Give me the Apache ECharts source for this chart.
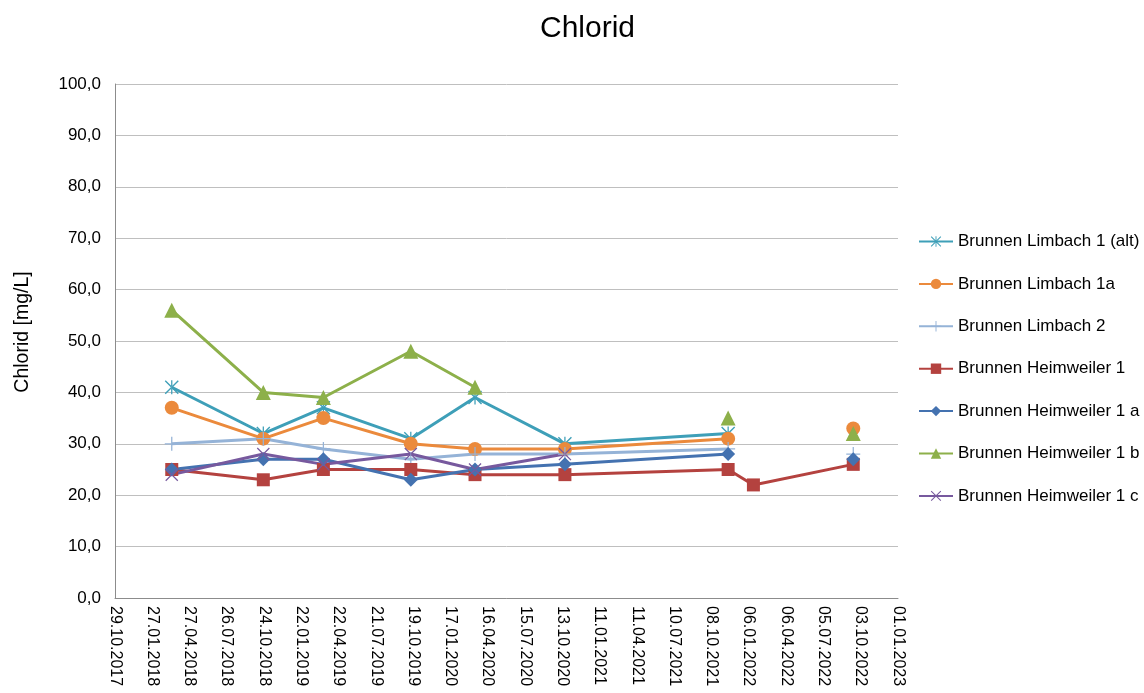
<!DOCTYPE html>
<html>
<head>
<meta charset="utf-8">
<script src="https://cdn.jsdelivr.net/npm/echarts@6/dist/echarts.min.js"></script>
<style>
  html, body { margin: 0; padding: 0; background: #fff; }
  #chart { width: 1144px; height: 693px; }
</style>
</head>
<body>
<div id="chart"></div>
<script>
// Sampling dates (one row per measurement campaign)
const sampleDates = ['2018-03-15', '2018-10-22', '2019-03-16', '2019-10-13', '2020-03-16',
                     '2020-10-19', '2021-11-17', '2022-01-17', '2022-09-15'];

// Chloride in mg/L; null = not sampled on that date
const limbach1alt   = [41, 32, 37, 31, 39, 30, 32, null, null];
const limbach1a     = [37, 31, 35, 30, 29, 29, 31, null, 33];
const limbach2      = [30, 31, 29, 27, 28, 28, 29, null, 28];
const heimweiler1   = [25, 23, 25, 25, 24, 24, 25, 22, 26];
const heimweiler1a  = [25, 27, 27, 23, 25, 26, 28, null, 27];
const heimweiler1b  = [56, 40, 39, 48, 41, null, 35, null, 32];
const heimweiler1c  = [24, 28, 26, 28, 25, 28, null, null, null];

// Date axis tick labels, every 90 days from 29.10.2017
const xTickLabels = ['29.10.2017', '27.01.2018', '27.04.2018', '26.07.2018', '24.10.2018',
  '22.01.2019', '22.04.2019', '21.07.2019', '19.10.2019', '17.01.2020', '16.04.2020',
  '15.07.2020', '13.10.2020', '11.01.2021', '11.04.2021', '10.07.2021', '08.10.2021',
  '06.01.2022', '06.04.2022', '05.07.2022', '03.10.2022', '01.01.2023'];
const axisStart = '2017-10-29';
const tickStepDays = 90;

const DAY = 86400000;
function dayOffset(s) {
  const [y, m, d] = s.split('-').map(Number);
  const [y0, m0, d0] = axisStart.split('-').map(Number);
  return Math.round((Date.UTC(y, m - 1, d) - Date.UTC(y0, m0 - 1, d0)) / DAY);
}
const xDays = sampleDates.map(dayOffset);

function pairs(values) {
  return values.map((v, i) => [xDays[i], v === null ? '-' : v]);
}

// marker shapes: asterisk, plus and cross
const asterisk = 'path://M-10,-8.6L-8.6,-10L10,8.6L8.6,10Z M10,-8.6L8.6,-10L-10,8.6L-8.6,10Z M-0.9,-10L0.9,-10L0.9,10L-0.9,10Z';
const plus = 'path://M-0.9,-10L0.9,-10L0.9,-0.9L10,-0.9L10,0.9L0.9,0.9L0.9,10L-0.9,10L-0.9,0.9L-10,0.9L-10,-0.9L-0.9,-0.9Z';
const cross = 'path://M-10,-8.6L-8.6,-10L10,8.6L8.6,10Z M10,-8.6L8.6,-10L-10,8.6L-8.6,10Z';

const seriesDefs = [
  { name: 'Brunnen Limbach 1 (alt)', data: limbach1alt, color: '#3E9FB8', symbol: asterisk, size: 14 },
  { name: 'Brunnen Limbach 1a', data: limbach1a, color: '#EB8A3C', symbol: 'circle', size: 14 },
  { name: 'Brunnen Limbach 2', data: limbach2, color: '#95B3D7', symbol: plus, size: 14 },
  { name: 'Brunnen Heimweiler 1', data: heimweiler1, color: '#B4423F', symbol: 'rect', size: 13 },
  { name: 'Brunnen Heimweiler 1 a', data: heimweiler1a, color: '#4472B0', symbol: 'diamond', size: 14 },
  { name: 'Brunnen Heimweiler 1 b', data: heimweiler1b, color: '#8DB04A', symbol: 'triangle', size: 15 },
  { name: 'Brunnen Heimweiler 1 c', data: heimweiler1c, color: '#77599E', symbol: cross, size: 13 }
];

const FONT = '"Liberation Sans", Arial, sans-serif';
const chart = echarts.init(document.getElementById('chart'), null, { renderer: 'canvas' });

chart.setOption({
  animation: false,
  backgroundColor: '#ffffff',
  title: {
    text: 'Chlorid',
    left: 535,
    top: 9,
    textStyle: { fontFamily: FONT, fontSize: 30, fontWeight: 'normal', color: '#000' }
  },
  legend: {
    orient: 'vertical',
    left: 913,
    top: 228,
    itemWidth: 34,
    itemHeight: 13,
    itemGap: 25.4,
    textStyle: { fontFamily: FONT, fontSize: 17, color: '#000' },
    data: seriesDefs.map(s => s.name)
  },
  grid: { left: 115, right: 246, top: 84, bottom: 95, containLabel: false },
  xAxis: {
    type: 'value',
    min: 0,
    max: tickStepDays * (xTickLabels.length - 1),
    interval: tickStepDays,
    axisLine: { show: true, onZero: false, lineStyle: { color: '#8C8C8C', width: 1 } },
    axisTick: { show: false },
    splitLine: { show: false },
    axisLabel: {
      rotate: -90,
      margin: 8,
      fontFamily: FONT,
      fontSize: 16,
      color: '#000',
      formatter: v => xTickLabels[Math.round(v / tickStepDays)] || ''
    }
  },
  yAxis: {
    type: 'value',
    min: 0,
    max: 100,
    interval: 10,
    name: 'Chlorid [mg/L]',
    nameLocation: 'middle',
    nameGap: 82,
    nameTextStyle: { fontFamily: FONT, fontSize: 19.5, color: '#000', padding: [0, 0, 0, 18] },
    axisLine: { show: true, lineStyle: { color: '#8C8C8C', width: 1 } },
    axisTick: { show: false },
    splitLine: { show: true, lineStyle: { color: '#BFBFBF', width: 1 } },
    axisLabel: {
      margin: 14,
      fontFamily: FONT,
      fontSize: 17,
      color: '#000',
      formatter: v => v.toFixed(1).replace('.', ',')
    }
  },
  series: seriesDefs.map(s => ({
    name: s.name,
    type: 'line',
    data: pairs(s.data),
    connectNulls: false,
    symbol: s.symbol,
    symbolSize: s.size,
    showAllSymbol: true,
    lineStyle: { color: s.color, width: 3 },
    itemStyle: { color: s.color, borderWidth: 0 }
  }))
});
</script>
</body>
</html>
